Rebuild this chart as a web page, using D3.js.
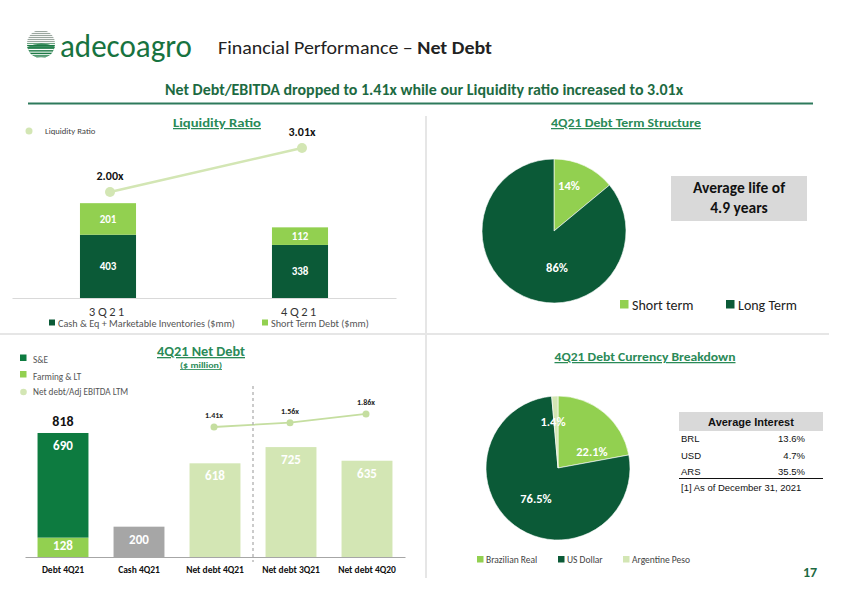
<!DOCTYPE html>
<html><head><meta charset="utf-8">
<script src="https://cdn.jsdelivr.net/npm/d3@7/dist/d3.min.js"></script>
<style>
body{margin:0;background:#fff;}
svg{display:block;font-family:Calibri,Carlito,Lato,"Open Sans",sans-serif;}
</style></head>
<body>
<svg id="c" width="842" height="595"></svg>
<script>
// ---------- DATA ----------
const liqCategories = ["3Q21", "4Q21"];
const liqCash = [403, 338];
const liqShortDebt = [201, 112];
const liqRatio = [2.00, 3.01];
const liqRatioLabels = ["2.00x", "3.01x"];

const ndCategories = ["Debt 4Q21", "Cash 4Q21", "Net debt 4Q21", "Net debt 3Q21", "Net debt 4Q20"];
const ndFarming = [128, 0, 0, 0, 0];
const ndSE = [690, 0, 0, 0, 0];
const ndCash = [0, 200, 0, 0, 0];
const ndNet = [0, 0, 618, 725, 635];
const ndTotalLabel = ["818", "", "", "", ""];
const ratioCategories = ["Net debt 4Q21", "Net debt 3Q21", "Net debt 4Q20"];
const ratioValues = [1.41, 1.56, 1.86];
const ratioLabels = ["1.41x", "1.56x", "1.86x"];

const termLabels = ["Short term", "Long Term"];
const termValues = [14, 86];
const termText = ["14%", "86%"];

const curLabels = ["Brazilian Real", "US Dollar", "Argentine Peso"];
const curValues = [22.1, 76.5, 1.4];
const curText = ["22.1%", "76.5%", "1.4%"];

const interestCurrencies = ["BRL", "USD", "ARS"];
const interestRates = ["13.6%", "4.7%", "35.5%"];

// ---------- COLORS ----------
const DARK = "#0b5a37", LIGHT = "#92d050", PALE = "#d3e6b4", SE = "#0d7b40", GRAY = "#a6a6a6";
const TITLEG = "#2a8a57";

const svg = d3.select("#c");

// ---------- HEADER ----------
const logo = svg.append("g");
const clip = svg.append("defs").append("clipPath").attr("id", "globe");
clip.append("circle").attr("cx", 41).attr("cy", 44).attr("r", 14);
const lg = logo.append("g").attr("clip-path", "url(#globe)");
d3.range(0, 14).forEach(i => {
  const y = 31 + i * 2;
  lg.append("rect").attr("x", 26).attr("y", y).attr("width", 30).attr("height", 1.1)
    .attr("fill", i < 6 ? "#9aa79f" : (i % 2 ? "#1c7a45" : "#6fa784"));
});
lg.append("path").attr("d", "M27,47 Q41,40 56,47 L56,58 L27,58 Z").attr("fill", "#1c7a45").attr("opacity", 0.85);
d3.range(0, 4).forEach(i => {
  lg.append("rect").attr("x", 27).attr("y", 49 + i * 2.6).attr("width", 30).attr("height", 1).attr("fill", "#fff");
});
svg.append("text").attr("x", 60).attr("y", 57).attr("font-size", 33).attr("fill", "#17733f")
  .attr("textLength", 132).attr("lengthAdjust", "spacingAndGlyphs").text("adecoagro");
const ttl = svg.append("text").attr("x", 218).attr("y", 54).attr("font-size", 19).attr("fill", "#222")
  .attr("textLength", 274).attr("lengthAdjust", "spacingAndGlyphs");
ttl.append("tspan").text("Financial Performance – ");
ttl.append("tspan").attr("font-weight", "bold").text("Net Debt");

svg.append("text").attr("x", 424).attr("y", 95).attr("text-anchor", "middle").attr("font-size", 15)
  .attr("font-weight", "bold").attr("fill", "#1d6a42").attr("textLength", 518).attr("lengthAdjust", "spacingAndGlyphs")
  .text("Net Debt/EBITDA dropped to 1.41x while our Liquidity ratio increased to 3.01x");
svg.append("line").attr("x1", 28).attr("x2", 813).attr("y1", 103.5).attr("y2", 103.5)
  .attr("stroke", "#2e7a5c").attr("stroke-width", 2);

// dividers
svg.append("line").attr("x1", 426).attr("x2", 426).attr("y1", 116).attr("y2", 578).attr("stroke", "#e6e6e6").attr("stroke-width", 2);
svg.append("line").attr("x1", 0).attr("x2", 829).attr("y1", 334).attr("y2", 334).attr("stroke", "#e6e6e6").attr("stroke-width", 2);

function sectionTitle(x, y, txt, size, len) {
  svg.append("text").attr("x", x).attr("y", y).attr("text-anchor", "middle").attr("font-size", size)
    .attr("font-weight", "bold").attr("fill", TITLEG).attr("text-decoration", "underline")
    .attr("textLength", len).attr("lengthAdjust", "spacingAndGlyphs").text(txt);
}

// ---------- LIQUIDITY RATIO (top-left) ----------
sectionTitle(217, 127, "Liquidity Ratio", 12.5, 88);
svg.append("circle").attr("cx", 29).attr("cy", 131).attr("r", 3.5).attr("fill", PALE);
svg.append("text").attr("x", 45).attr("y", 134).attr("font-size", 8.7).attr("fill", "#444").text("Liquidity Ratio");

const xL = d3.scaleBand().domain(liqCategories).range([12, 396]).paddingInner(0.708).paddingOuter(0.354);
const yL = d3.scaleLinear().domain([0, 650]).range([298, 298 - 650 * 0.157]);
const yLR = d3.scaleLinear().domain([0, 3.5]).range([279.1, 279.1 - 3.5 * 43.56]);

const gL = svg.append("g");
gL.selectAll(".cash").data(liqCategories).join("rect")
  .attr("x", d => xL(d)).attr("width", xL.bandwidth())
  .attr("y", (d, i) => yL(liqCash[i])).attr("height", (d, i) => yL(0) - yL(liqCash[i])).attr("fill", DARK);
gL.selectAll(".sd").data(liqCategories).join("rect")
  .attr("x", d => xL(d)).attr("width", xL.bandwidth())
  .attr("y", (d, i) => yL(liqCash[i] + liqShortDebt[i])).attr("height", (d, i) => yL(0) - yL(liqShortDebt[i])).attr("fill", LIGHT);
gL.selectAll(".lc").data(liqCategories).join("text")
  .attr("x", d => xL(d) + xL.bandwidth() / 2).attr("y", (d, i) => (yL(0) + yL(liqCash[i])) / 2 + 4)
  .attr("text-anchor", "middle").attr("font-size", 11).attr("font-weight", "bold").attr("fill", "#fff")
  .text((d, i) => liqCash[i]);
gL.selectAll(".ls").data(liqCategories).join("text")
  .attr("x", d => xL(d) + xL.bandwidth() / 2).attr("y", (d, i) => (yL(liqCash[i]) + yL(liqCash[i] + liqShortDebt[i])) / 2 + 4)
  .attr("text-anchor", "middle").attr("font-size", 11).attr("font-weight", "bold").attr("fill", "#fff")
  .text((d, i) => liqShortDebt[i]);
const axL = svg.append("g").attr("transform", "translate(0,298)").call(d3.axisBottom(xL).tickSize(0).tickPadding(10));
axL.select(".domain").attr("stroke", "#d9d9d9");
axL.selectAll("text").attr("font-size", 11).attr("fill", "#333").attr("letter-spacing", "2.5px")
  .attr("font-family", "Lato, sans-serif");
const lineL = d3.line().x((d, i) => xL(liqCategories[i]) + xL.bandwidth() / 2 + 2).y(d => yLR(d));
gL.append("path").datum(liqRatio).attr("d", lineL).attr("fill", "none").attr("stroke", PALE).attr("stroke-width", 2.5);
gL.selectAll(".ld").data(liqRatio).join("circle")
  .attr("cx", (d, i) => xL(liqCategories[i]) + xL.bandwidth() / 2 + 2).attr("cy", d => yLR(d)).attr("r", 5).attr("fill", PALE);
gL.selectAll(".ll").data(liqRatio).join("text")
  .attr("x", (d, i) => xL(liqCategories[i]) + xL.bandwidth() / 2 + 2).attr("y", d => yLR(d) - 12)
  .attr("text-anchor", "middle").attr("font-size", 12).attr("font-weight", "bold").attr("fill", "#111")
  .text((d, i) => liqRatioLabels[i]);
// legend
svg.append("rect").attr("x", 49).attr("y", 319.5).attr("width", 6).attr("height", 6).attr("fill", DARK);
svg.append("text").attr("x", 58).attr("y", 327).attr("font-size", 10.2).attr("fill", "#555").text("Cash & Eq + Marketable Inventories ($mm)");
svg.append("rect").attr("x", 262).attr("y", 319.5).attr("width", 6).attr("height", 6).attr("fill", LIGHT);
svg.append("text").attr("x", 271).attr("y", 327).attr("font-size", 10.2).attr("fill", "#555").text("Short Term Debt ($mm)");

// ---------- NET DEBT (bottom-left) ----------
sectionTitle(201, 356, "4Q21 Net Debt", 13, 88);
sectionTitle(201, 368, "($ million)", 8.5, 42);
svg.append("rect").attr("x", 20).attr("y", 354.5).attr("width", 6.5).attr("height", 6.5).attr("fill", SE);
svg.append("text").attr("x", 33).attr("y", 363).attr("font-size", 9.2).attr("fill", "#555").text("S&E");
svg.append("rect").attr("x", 20).attr("y", 371).attr("width", 6.5).attr("height", 6.5).attr("fill", LIGHT);
svg.append("text").attr("x", 33).attr("y", 380).attr("font-size", 9.2).attr("fill", "#555").text("Farming & LT");
svg.append("circle").attr("cx", 23.5).attr("cy", 392).attr("r", 3.3).attr("fill", PALE);
svg.append("text").attr("x", 33).attr("y", 395).attr("font-size", 9.2).attr("fill", "#555").text("Net debt/Adj EBITDA LTM");

const xN = d3.scaleBand().domain(ndCategories).range([25, 405]).paddingInner(0.33).paddingOuter(0.165);
const yN = d3.scaleLinear().domain([0, 900]).range([557, 557 - 900 * 0.1516]);
const yNR = d3.scaleLinear().domain([0, 2.5]).range([467.9, 467.9 - 2.5 * 29]);
const gN = svg.append("g");
const layers = [
  {vals: ndFarming, base: ndFarming.map(() => 0), color: LIGHT},
  {vals: ndSE, base: ndFarming, color: SE},
  {vals: ndCash, base: ndCash.map(() => 0), color: GRAY},
  {vals: ndNet, base: ndNet.map(() => 0), color: PALE}
];
layers.forEach(L => {
  gN.append("g").selectAll("rect").data(ndCategories.map((c, i) => ({c, v: L.vals[i], b: L.base[i]})).filter(d => d.v > 0))
    .join("rect").attr("x", d => xN(d.c)).attr("width", xN.bandwidth())
    .attr("y", d => yN(d.b + d.v)).attr("height", d => yN(d.b) - yN(d.b + d.v)).attr("fill", L.color);
});
// value labels
const valLab = [];
ndCategories.forEach((c, i) => {
  if (ndFarming[i]) valLab.push({c, t: ndFarming[i], y: yN(0) - 7});
  if (ndSE[i]) valLab.push({c, t: ndSE[i], y: yN(ndFarming[i] + ndSE[i]) + 17});
  if (ndCash[i]) valLab.push({c, t: ndCash[i], y: yN(ndCash[i]) + 17});
  if (ndNet[i]) valLab.push({c, t: ndNet[i], y: yN(ndNet[i]) + 17});
});
gN.selectAll(".vl").data(valLab).join("text").attr("x", d => xN(d.c) + xN.bandwidth() / 2).attr("y", d => d.y)
  .attr("text-anchor", "middle").attr("font-size", 13).attr("font-weight", "bold").attr("fill", "#fff").text(d => d.t);
gN.selectAll(".tl").data(ndCategories.filter((c, i) => ndTotalLabel[i])).join("text")
  .attr("x", d => xN(d) + xN.bandwidth() / 2).attr("y", d => yN(ndFarming[ndCategories.indexOf(d)] + ndSE[ndCategories.indexOf(d)]) - 7)
  .attr("text-anchor", "middle").attr("font-size", 14).attr("font-weight", "bold").attr("fill", "#111")
  .text(d => ndTotalLabel[ndCategories.indexOf(d)]);
const axN = svg.append("g").attr("transform", "translate(0,557)").call(d3.axisBottom(xN).tickSize(0).tickPadding(9));
axN.select(".domain").attr("stroke", "#a6a6a6").attr("stroke-width", 1);
axN.selectAll("text").attr("font-size", 9.5).attr("font-weight", "bold").attr("fill", "#111")
  .attr("font-family", "Calibri,Carlito,Lato,sans-serif");
// dashed divider
svg.append("line").attr("x1", 253).attr("x2", 253).attr("y1", 386).attr("y2", 562)
  .attr("stroke", "#b0b0b0").attr("stroke-width", 1.3).attr("stroke-dasharray", "3,3");
const lineN = d3.line().x((d, i) => xN(ratioCategories[i]) + xN.bandwidth() / 2 - 1).y(d => yNR(d));
gN.append("path").datum(ratioValues).attr("d", lineN).attr("fill", "none").attr("stroke", "#c5dea0").attr("stroke-width", 1.8);
gN.selectAll(".rd").data(ratioValues).join("circle")
  .attr("cx", (d, i) => xN(ratioCategories[i]) + xN.bandwidth() / 2 - 1).attr("cy", d => yNR(d)).attr("r", 3.5).attr("fill", "#c5dea0");
gN.selectAll(".rl").data(ratioValues).join("text")
  .attr("x", (d, i) => xN(ratioCategories[i]) + xN.bandwidth() / 2 - 1).attr("y", d => yNR(d) - 9)
  .attr("text-anchor", "middle").attr("font-size", 8).attr("font-weight", "bold").attr("fill", "#222")
  .text((d, i) => ratioLabels[i]);

// ---------- TERM STRUCTURE PIE (top-right) ----------
sectionTitle(626, 127, "4Q21 Debt Term Structure", 12.5, 150);
const pie = d3.pie().sort(null).value(d => d);
const arcT = d3.arc().innerRadius(0).outerRadius(72);
const gT = svg.append("g").attr("transform", "translate(554,231)");
const termColors = [LIGHT, DARK];
gT.selectAll("path").data(pie(termValues)).join("path").attr("d", arcT)
  .attr("fill", (d, i) => termColors[i]).attr("stroke", "#fff").attr("stroke-width", 0.6);
const termLabelPos = [[15, -41], [3, 41]];
gT.selectAll(".pl").data(termText).join("text").attr("x", (d, i) => termLabelPos[i][0]).attr("y", (d, i) => termLabelPos[i][1])
  .attr("text-anchor", "middle").attr("font-size", 12.5).attr("font-weight", "bold").attr("fill", "#fff").text(d => d);
svg.append("rect").attr("x", 671).attr("y", 176).attr("width", 136).attr("height", 45).attr("fill", "#d9d9d9");
svg.append("text").attr("x", 739).attr("y", 193).attr("text-anchor", "middle").attr("font-size", 15.5).attr("font-weight", "bold")
  .attr("fill", "#111").text("Average life of");
svg.append("text").attr("x", 739).attr("y", 213).attr("text-anchor", "middle").attr("font-size", 15.5).attr("font-weight", "bold")
  .attr("fill", "#111").text("4.9 years");
const termLegX = [620, 726];
termLabels.forEach((t, i) => {
  svg.append("rect").attr("x", termLegX[i]).attr("y", 300).attr("width", 8.5).attr("height", 8.5).attr("fill", termColors[i]);
  svg.append("text").attr("x", termLegX[i] + 12).attr("y", 309.5).attr("font-size", 14).attr("fill", "#222").text(t);
});

// ---------- CURRENCY PIE (bottom-right) ----------
sectionTitle(645, 361, "4Q21 Debt Currency Breakdown", 12.5, 181);
const arcC = d3.arc().innerRadius(0).outerRadius(72);
const gC = svg.append("g").attr("transform", "translate(558,468)");
const curColors = [LIGHT, DARK, PALE];
gC.selectAll("path").data(pie(curValues)).join("path").attr("d", arcC)
  .attr("fill", (d, i) => curColors[i]).attr("stroke", "#fff").attr("stroke-width", 0.6);
const curLabelPos = [[34, -12], [-22, 35], [-5, -42]];
gC.selectAll(".cl").data(curText).join("text").attr("x", (d, i) => curLabelPos[i][0]).attr("y", (d, i) => curLabelPos[i][1])
  .attr("text-anchor", "middle").attr("font-size", 12.5).attr("font-weight", "bold").attr("fill", "#fff").text(d => d);
const curLegX = [477, 558, 623];
curLabels.forEach((t, i) => {
  svg.append("rect").attr("x", curLegX[i]).attr("y", 556).attr("width", 6.5).attr("height", 6.5).attr("fill", curColors[i]);
  svg.append("text").attr("x", curLegX[i] + 9).attr("y", 563).attr("font-size", 9.5).attr("fill", "#444").text(t);
});
// table
svg.append("rect").attr("x", 679).attr("y", 412).attr("width", 144).attr("height", 19).attr("fill", "#d9d9d9");
svg.append("text").attr("x", 751).attr("y", 426).attr("text-anchor", "middle").attr("font-size", 11).attr("font-weight", "bold")
  .attr("fill", "#111").attr("font-family", "'Liberation Sans',sans-serif").text("Average Interest");
interestCurrencies.forEach((c, i) => {
  const y = 442 + i * 16.5;
  svg.append("text").attr("x", 681).attr("y", y).attr("font-size", 9.5).attr("fill", "#111")
    .attr("font-family", "'Liberation Sans',sans-serif").text(c);
  svg.append("text").attr("x", 805).attr("y", y).attr("text-anchor", "end").attr("font-size", 9.5).attr("fill", "#111")
    .attr("font-family", "'Liberation Sans',sans-serif").text(interestRates[i]);
});
svg.append("line").attr("x1", 679).attr("x2", 823).attr("y1", 478.5).attr("y2", 478.5).attr("stroke", "#111").attr("stroke-width", 1);
svg.append("text").attr("x", 681).attr("y", 491).attr("font-size", 9.5).attr("fill", "#111")
  .attr("font-family", "'Liberation Sans',sans-serif").text("[1] As of December 31, 2021");

svg.append("text").attr("x", 810).attr("y", 577).attr("text-anchor", "middle").attr("font-size", 14).attr("font-weight", "bold")
  .attr("fill", "#1d6a42").text("17");
</script>
</body></html>
